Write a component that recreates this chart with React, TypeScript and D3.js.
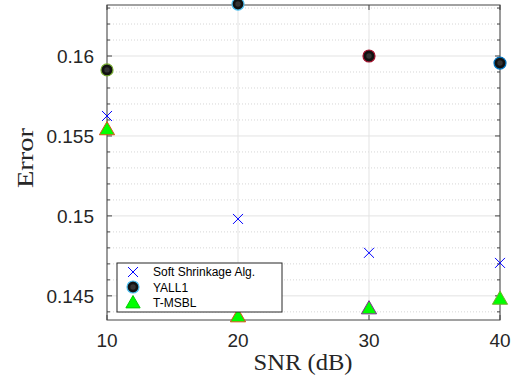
import React from "react";
import * as d3 from "d3";

const snr = [10, 20, 30, 40];
const softShrinkage = [0.15625, 0.14981, 0.14769, 0.14706];
const yall1 = [0.15913, 0.16325, 0.16, 0.15956];
const tmsbl = [0.1554, 0.1437, 0.1442, 0.1448];
const yallEdge = ["#77AC30", "#4DBEEE", "#A2142F", "#0072BD"];
const tmsblEdge = ["#D95319", "#D95319", "#7E2F8E", "#77AC30"];
const xTicks = [10, 20, 30, 40];
const yTicks = [0.145, 0.15, 0.155, 0.16];
const yTickLabels = ["0.145", "0.15", "0.155", "0.16"];
const legendLabels = ["Soft Shrinkage Alg.", "YALL1", "T-MSBL"];

export default function App() {
  const W = 518, H = 380;
  const L = 107, R = 500, T = 5, B = 320;
  const x = d3.scaleLinear().domain([10, 40]).range([L, R]);
  const y = d3.scaleLinear().domain([0.14349, 0.16319]).range([B, T]);
  const minor = d3.range(0.144, 0.1635, 0.001).filter((v) => v > y.domain()[0] && v < y.domain()[1]);
  const isMajor = (v: number) => yTicks.some((t) => Math.abs(t - v) < 1e-7);
  const sans = "'Liberation Sans', Arial, Helvetica, sans-serif";
  const serif = "'Liberation Serif', 'Times New Roman', serif";
  const tri = (cx: number, cy: number, s = 8) =>
    `M${cx},${cy - s} L${cx + s * 0.95},${cy + s * 0.65} L${cx - s * 0.95},${cy + s * 0.65} Z`;
  const cross = (cx: number, cy: number, s = 5) =>
    `M${cx - s},${cy - s} L${cx + s},${cy + s} M${cx - s},${cy + s} L${cx + s},${cy - s}`;
  const circle = (cx: number, cy: number, edge: string, key: string, r = 6) => (
    <g key={key}>
      <circle cx={cx} cy={cy} r={r} fill="#111" stroke={edge} strokeWidth={1.2} />
      <circle cx={cx} cy={cy} r={r * 0.45} fill="#333" />
    </g>
  );
  return (
    <svg width={W} height={H} style={{ position: "absolute", left: 0, top: 0, background: "#fff" }}>
      <rect x={0} y={0} width={W} height={H} fill="#fff" />
      {minor.filter((v) => !isMajor(v)).map((v, i) => (
        <line key={"mg" + i} x1={L} x2={R} y1={y(v)} y2={y(v)} stroke="#d6d6d6" strokeDasharray="1,2" strokeWidth={1} />
      ))}
      {yTicks.map((v, i) => (
        <line key={"yg" + i} x1={L} x2={R} y1={y(v)} y2={y(v)} stroke="#e3e3e3" strokeWidth={1} />
      ))}
      {xTicks.map((v, i) => (
        <line key={"xg" + i} x1={x(v)} x2={x(v)} y1={T} y2={B} stroke="#e3e3e3" strokeWidth={1} />
      ))}
      <rect x={L} y={T} width={R - L} height={B - T} fill="none" stroke="#444" strokeWidth={1} />
      {minor.map((v, i) => {
        const len = isMajor(v) ? 5 : 3;
        return (
          <g key={"mt" + i}>
            <line x1={L} x2={L + len} y1={y(v)} y2={y(v)} stroke="#444" />
            <line x1={R} x2={R - len} y1={y(v)} y2={y(v)} stroke="#444" />
          </g>
        );
      })}
      {xTicks.map((v, i) => (
        <g key={"xt" + i}>
          <line x1={x(v)} x2={x(v)} y1={B} y2={B - 5} stroke="#444" />
          <line x1={x(v)} x2={x(v)} y1={T} y2={T + 5} stroke="#444" />
          <text x={x(v)} y={B + 27} textAnchor="middle" fontFamily={sans} fontSize={19} fill="#262626">{v}</text>
        </g>
      ))}
      {yTicks.map((v, i) => (
        <text key={"yl" + i} x={L - 13} y={y(v) + 7} textAnchor="end" fontFamily={sans} fontSize={19} fill="#262626">{yTickLabels[i]}</text>
      ))}
      <text x={303} y={370} textAnchor="middle" fontFamily={serif} fontSize={23} textLength={99} lengthAdjust="spacingAndGlyphs" fill="#262626">SNR (dB)</text>
      <text transform="translate(33,158) rotate(-90)" textAnchor="middle" fontFamily={serif} fontSize={23} textLength={60} lengthAdjust="spacingAndGlyphs" fill="#262626">Error</text>
      {snr.map((v, i) => (
        <path key={"ss" + i} d={cross(x(v), y(softShrinkage[i]))} stroke="#0000ff" strokeWidth={1} fill="none" />
      ))}
      {snr.map((v, i) => circle(x(v), y(yall1[i]), yallEdge[i], "ya" + i))}
      {snr.map((v, i) => (
        <path key={"tm" + i} d={tri(x(v), y(tmsbl[i]))} fill="#00ff00" stroke={tmsblEdge[i]} strokeWidth={1} />
      ))}
      <rect x={117} y={263} width={165} height={49} fill="#fff" stroke="#262626" strokeWidth={1} />
      <path d={cross(133, 272, 5)} stroke="#0000ff" strokeWidth={1} fill="none" />
      {circle(133, 287, "#4DBEEE", "lg", 6)}
      <path d={tri(133, 303, 7.5)} fill="#00ff00" stroke="#00cc00" strokeWidth={1} />
      {legendLabels.map((s, i) => (
        <text key={"lt" + i} x={153} y={276 + i * 15.5} fontFamily={sans} fontSize={12} fill="#000">{s}</text>
      ))}
    </svg>
  );
}
